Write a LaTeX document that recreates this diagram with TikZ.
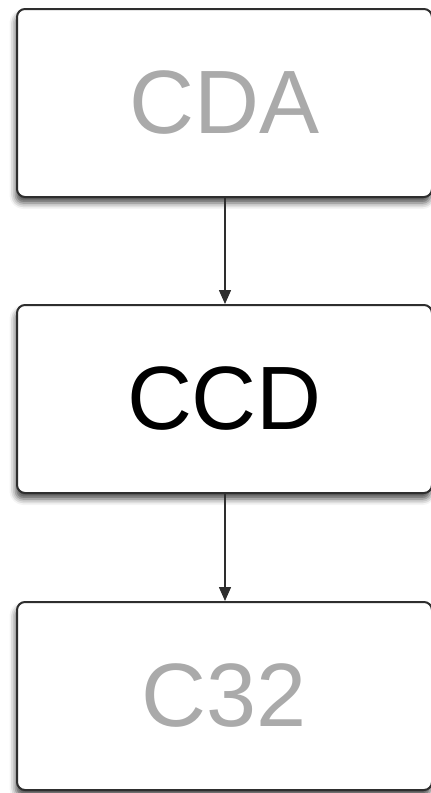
\documentclass[tikz,border=0pt]{standalone}
\usepackage{fontspec}
\setmainfont{Liberation Sans}
\usetikzlibrary{arrows.meta,shadows.blur}
\definecolor{boxline}{HTML}{2E2E2E}
\definecolor{fadedtext}{HTML}{AAAAAA}
\begin{document}
\begin{tikzpicture}[x=1pt,y=-1pt,
  stagebox/.style={draw=boxline, line width=2pt, rounded corners=8pt, fill=white,
    minimum width=415pt, minimum height=188pt, inner sep=0pt, anchor=north west,
    blur shadow={shadow xshift=-1.5pt, shadow yshift=-6pt, shadow blur radius=6pt, shadow opacity=70},
    font=\fontsize{90}{108}\selectfont},
  flow/.style={draw=boxline, line width=1.5pt, -{Triangle[length=14pt,width=12pt]}}]
\useasboundingbox (0,0) rectangle (431,793);
\node[stagebox, text=fadedtext] (cda) at (16,8) {CDA};
\node[stagebox, text=black] (ccd) at (16,304) {CCD};
\node[stagebox, text=fadedtext] (c32) at (16,601) {C32};
\draw[flow] (cda.south -| 225,0) -- (ccd.north -| 225,0);
\draw[flow] (ccd.south -| 225,0) -- (c32.north -| 225,0);
\end{tikzpicture}
\end{document}
